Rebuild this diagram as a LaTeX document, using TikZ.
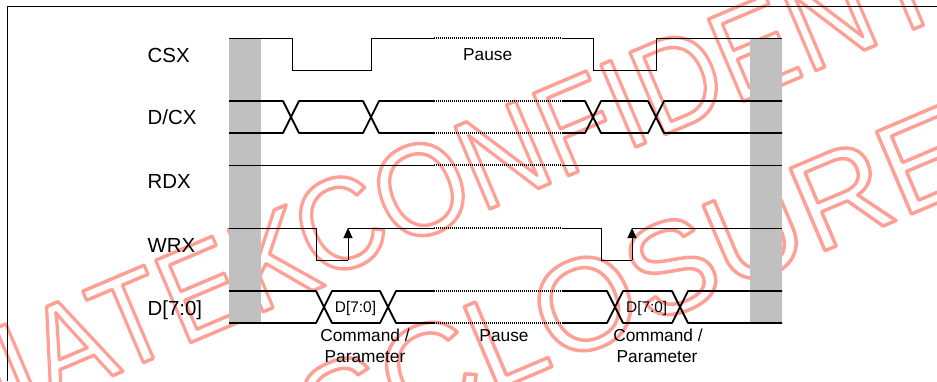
\documentclass[tikz,border=0pt]{standalone}
\usepackage{fontspec}
\setmainfont{Liberation Sans}
\usepackage{graphicx}
\usetikzlibrary{arrows.meta}
\definecolor{wmred}{RGB}{255,160,150}
\definecolor{bargrey}{RGB}{192,192,192}
\newcommand\outlinetxt[1]{\special{pdf:literal direct 1 Tr 3.5 w 1 j}#1\special{pdf:literal direct 0 Tr}}
\tikzset{
  thinsig/.style={line width=1pt, line join=miter},
  bussig/.style={line width=1.8pt, line join=round},
  dotseg/.style={dash pattern=on 1.2pt off 0.8pt},
  siglabel/.style={font=\fontsize{20.4}{24}\selectfont, anchor=base west, inner sep=0pt},
  notelabel/.style={font=\fontsize{17.3}{21}\selectfont, anchor=base, inner sep=0pt},
  buslabel/.style={font=\fontsize{15.4}{18}\selectfont, anchor=base, inner sep=0pt},
  wmtext/.style={font=\fontsize{130}{156}\selectfont, text=wmred, anchor=base west, inner sep=0pt, rotate=23},
  edgearrow/.style={-{Triangle[length=10pt,width=9pt]}, line width=1pt},
}
\begin{document}
\begin{tikzpicture}[x=1pt,y=-1pt]
\useasboundingbox (0,0) rectangle (937,381);
\fill[white] (0,0) rectangle (937,381);
% watermark
\begin{scope}
\node[wmtext] (wm1) at (-221,517.3) {\outlinetxt{\scalebox{0.908}[1]{MEDIATEK}}};
\node[wmtext] (wm2) at (317.7,282.1) {\outlinetxt{\scalebox{0.908}[1]{CONFIDENTIAL}}};
\node[wmtext] (wm3) at (203.3,514.6) {\outlinetxt{DISCLOSURE}};
\end{scope}
% frame
\draw[line width=1pt] (7.3,381) -- (7.3,6.7) -- (937,6.7);
% grey bars
\fill[bargrey] (229,38) rectangle (261,323);
\fill[bargrey] (750,38) rectangle (782,323);
% CSX
\draw[thinsig] (229,38) -- (292,38) -- (292,70) -- (371,70) -- (371,38) -- (434,38);
\draw[thinsig,line width=1.4pt,dotseg] (434,38) -- (562,38);
\draw[thinsig] (562,38) -- (593,38) -- (593,70) -- (656,70) -- (656,38) -- (782,38);
% D/CX
\draw[bussig] (229,101) -- (283,101) -- (291,117) -- (299,101) -- (363,101) -- (371,117) -- (379,101) -- (434,101);
\draw[bussig] (229,133) -- (283,133) -- (291,117) -- (299,133) -- (363,133) -- (371,117) -- (379,133) -- (434,133);
\draw[bussig,dotseg] (434,101) -- (562,101);
\draw[bussig,dotseg] (434,133) -- (562,133);
\draw[bussig] (562,101) -- (585,101) -- (593,117) -- (601,101) -- (648,101) -- (656,117) -- (664,101) -- (782,101);
\draw[bussig] (562,133) -- (585,133) -- (593,117) -- (601,133) -- (648,133) -- (656,117) -- (664,133) -- (782,133);
% RDX
\draw[thinsig] (229,165) -- (434,165);
\draw[thinsig,line width=1.4pt,dotseg] (434,165) -- (562,165);
\draw[thinsig] (562,165) -- (782,165);
% WRX
\draw[thinsig] (229,228) -- (316,228) -- (316,260) -- (348,260);
\draw[edgearrow] (348,260) -- (348,228);
\draw[thinsig] (348,228) -- (434,228);
\draw[thinsig,line width=1.4pt,dotseg] (434,228) -- (562,228);
\draw[thinsig] (562,228) -- (601,228) -- (601,260) -- (632,260);
\draw[edgearrow] (632,260) -- (632,228);
\draw[thinsig] (632,228) -- (782,228);
% D[7:0]
\draw[bussig] (229,291) -- (316,291) -- (324,307) -- (332,291) -- (380,291) -- (388,307) -- (396,291) -- (434,291);
\draw[bussig] (229,323) -- (316,323) -- (324,307) -- (332,323) -- (380,323) -- (388,307) -- (396,323) -- (434,323);
\draw[bussig,dotseg] (434,291) -- (562,291);
\draw[bussig,dotseg] (434,323) -- (562,323);
\draw[bussig] (562,291) -- (607,291) -- (615,307) -- (623,291) -- (672,291) -- (680,307) -- (688,291) -- (782,291);
\draw[bussig] (562,323) -- (607,323) -- (615,307) -- (623,323) -- (672,323) -- (680,307) -- (688,323) -- (782,323);
% labels
\node[siglabel] (lcsx) at (147.5,62) {CSX};
\node[siglabel] (ldcx) at (147.5,124) {D/CX};
\node[siglabel] (lrdx) at (147.5,188) {RDX};
\node[siglabel] (lwrx) at (147.5,252) {WRX};
\node[siglabel] (ldat) at (147.5,315) {D[7:0]};
\node[notelabel] (pausetop) at (487.7,60) {Pause};
\node[buslabel] (bus1) at (355.5,312.7) {D[7:0]};
\node[buslabel] (bus2) at (646.7,312.7) {D[7:0]};
\node[notelabel] (cmd1a) at (365,341.7) {Command /};
\node[notelabel] (cmd1b) at (365,362.7) {Parameter};
\node[notelabel] (pausebot) at (504,341.7) {Pause};
\node[notelabel] (cmd2a) at (658,341.7) {Command /};
\node[notelabel] (cmd2b) at (657,362.7) {Parameter};
\end{tikzpicture}
\end{document}
